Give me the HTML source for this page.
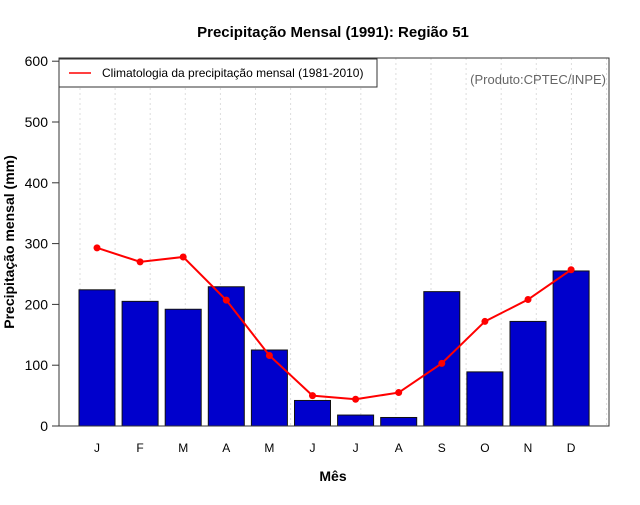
<!DOCTYPE html>
<html><head><meta charset="utf-8"><style>
body{margin:0;background:#fff;}
svg text{font-family:"Liberation Sans",sans-serif;}
</style></head><body>
<svg id="chart" width="640" height="500" xmlns="http://www.w3.org/2000/svg">
<rect width="640" height="500" fill="#fff"/>
<text x="333" y="37" text-anchor="middle" font-size="15" font-weight="bold">Precipitação Mensal (1991): Região 51</text>
<g id="grid"></g>
<g id="bars"></g>
<g id="line"></g>
<rect x="59" y="58" width="550" height="368" fill="none" stroke="#333"/>
<g id="yaxis"></g>
<g id="xaxis"></g>
<text x="333" y="481" text-anchor="middle" font-size="14" font-weight="bold">Mês</text>
<text transform="translate(14,242) rotate(-90)" text-anchor="middle" font-size="14" font-weight="bold">Precipitação mensal (mm)</text>
<g>
<rect x="59" y="59" width="318" height="28" fill="#fff" stroke="#333"/>
<line x1="69" y1="73" x2="91" y2="73" stroke="red" stroke-width="1.5"/>
<text x="102" y="77" font-size="12">Climatologia da precipitação mensal (1981-2010)</text>
</g>
<text x="606" y="84" text-anchor="end" font-size="13" fill="#666">(Produto:CPTEC/INPE)</text>
</svg>
<script>
const months = ["J","F","M","A","M","J","J","A","S","O","N","D"];
const precip = [224,205,192,229,125,42,18,14,221,89,172,255];
const climatology = [293,270,278,207,116,50,44,55,103,172,208,257];
const yTicks = [0,100,200,300,400,500,600];
const NS="http://www.w3.org/2000/svg";
const x0=59,x1=609,yBase=426,pxPer=0.608;
const step=43.1, firstX=97;
function xs(i){return firstX+i*step;}
function ys(v){return yBase-v*pxPer;}
function mk(t,a,p){const e=document.createElementNS(NS,t);for(const k in a)e.setAttribute(k,a[k]);p.appendChild(e);return e;}
const grid=document.getElementById('grid');
for(let gx=80;gx<x1;gx+=35.1){mk('line',{x1:gx,y1:58,x2:gx,y2:426,stroke:'#ddd','stroke-dasharray':'2,3'},grid);}
const bars=document.getElementById('bars');
precip.forEach((v,i)=>{
 const r=mk('rect',{x:xs(i)-18,y:ys(v),width:36,height:yBase-ys(v),fill:'#0000cc',stroke:'#111'},bars);
 
 
});
const line=document.getElementById('line');
const pl=mk('polyline',{points:climatology.map((v,i)=>xs(i)+','+ys(v)).join(' '),fill:'none',stroke:'red','stroke-width':2},line);


climatology.forEach((v,i)=>{
 const c=mk('circle',{cx:xs(i),cy:ys(v),r:3.5,fill:'red'},line);
 
 
});
const ya=document.getElementById('yaxis');
yTicks.forEach(t=>{
 mk('line',{x1:52,y1:ys(t),x2:59,y2:ys(t),stroke:'#333'},ya);
 const tx=mk('text',{x:48,y:ys(t)+5,'text-anchor':'end','font-size':14},ya);
 tx.textContent=t;
 
 
});
const xa=document.getElementById('xaxis');
months.forEach((m,i)=>{
 const tx=mk('text',{x:xs(i),y:452,'text-anchor':'middle','font-size':12},xa);
 tx.textContent=m;
 
 
});
</script>
</body></html>
